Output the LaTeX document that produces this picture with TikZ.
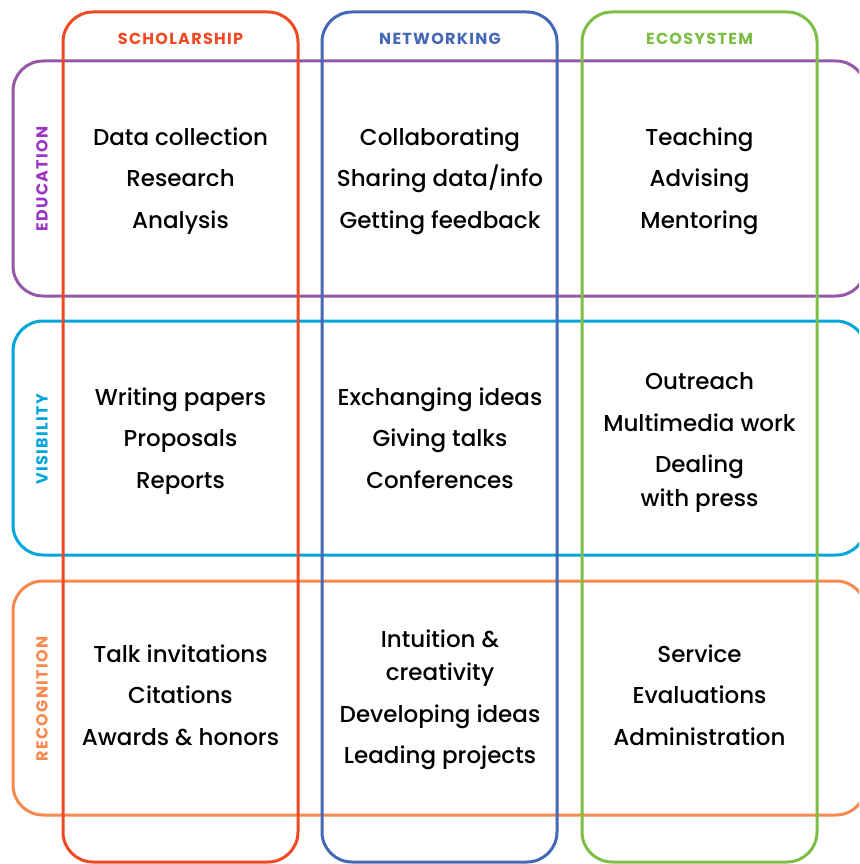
\documentclass[tikz,border=0pt]{standalone}
\usepackage{fontspec}
\setmainfont{Poppins Medium}
\newfontfamily\hdrfont[LetterSpace=8]{Poppins}
\definecolor{cRed}{HTML}{EF4A23}
\definecolor{cBlue}{HTML}{4468B4}
\definecolor{cGreen}{HTML}{7DBE44}
\definecolor{cPurple}{HTML}{9558A6}
\definecolor{cPurpleT}{HTML}{9B35C4}
\definecolor{cCyan}{HTML}{00A5DC}
\definecolor{cOrange}{HTML}{F7894F}
\begin{document}
\begin{tikzpicture}[x=1pt,y=-1pt,
  band/.style={line width=3pt,rounded corners=30pt},
  item/.style={font=\fontsize{23}{26}\selectfont,text=black,inner sep=0pt,anchor=base},
  colhead/.style={font=\hdrfont\bfseries\fontsize{16}{18}\selectfont,inner sep=0pt,anchor=base},
  rowhead/.style={font=\hdrfont\bfseries\fontsize{16}{18}\selectfont,inner sep=0pt,anchor=center,rotate=90}]
\useasboundingbox (0,0) rectangle (859,864);
\begin{scope}
\clip (0,0) rectangle (859,864);
% rows
\draw[band,cPurple] (13,61) rectangle (866,296);
\draw[band,cCyan] (13,321) rectangle (866,555);
\draw[band,cOrange] (13,581) rectangle (866,815);
% columns
\draw[band,cRed] (63,12) rectangle (298,862);
\draw[band,cBlue] (322,12) rectangle (557,862);
\draw[band,cGreen] (582,12) rectangle (817,862);
\end{scope}
% headers
\node[colhead,text=cRed] (hS) at (180.5,45) {SCHOLARSHIP};
\node[colhead,text=cBlue] (hN) at (440,45) {NETWORKING};
\node[colhead,text=cGreen] (hE) at (699.5,45) {ECOSYSTEM};
\node[rowhead,text=cPurpleT] (rE) at (42,179) {EDUCATION};
\node[rowhead,text=cCyan] (rV) at (42,439) {VISIBILITY};
\node[rowhead,text=cOrange] (rR) at (42,699) {RECOGNITION};
% row 1
\node[item] (a1) at (180.5,145) {Data collection};
\node[item] (a2) at (180.5,186) {Research};
\node[item] (a3) at (180.5,228) {Analysis};
\node[item] (b1) at (440,145) {Collaborating};
\node[item] (b2) at (440,186) {Sharing data/info};
\node[item] (b3) at (440,228) {Getting feedback};
\node[item] (c1) at (699.5,145) {Teaching};
\node[item] (c2) at (699.5,186) {Advising};
\node[item] (c3) at (699.5,228) {Mentoring};
% row 2
\node[item] (d1) at (180.5,405) {Writing papers};
\node[item] (d2) at (180.5,446) {Proposals};
\node[item] (d3) at (180.5,488) {Reports};
\node[item] (e1) at (440,405) {Exchanging ideas};
\node[item] (e2) at (440,446) {Giving talks};
\node[item] (e3) at (440,488) {Conferences};
\node[item] (f1) at (699.5,389) {Outreach};
\node[item] (f2) at (699.5,431) {Multimedia work};
\node[item] (f3) at (699.5,472) {Dealing};
\node[item] (f4) at (699.5,506) {with press};
% row 3
\node[item] (g1) at (180.5,662) {Talk invitations};
\node[item] (g2) at (180.5,703) {Citations};
\node[item] (g3) at (180.5,745) {Awards \& honors};
\node[item] (h1) at (440,647) {Intuition \&};
\node[item] (h2) at (440,680) {creativity};
\node[item] (h3) at (440,722) {Developing ideas};
\node[item] (h4) at (440,763) {Leading projects};
\node[item] (i1) at (699.5,662) {Service};
\node[item] (i2) at (699.5,703) {Evaluations};
\node[item] (i3) at (699.5,745) {Administration};
\end{tikzpicture}
\end{document}
